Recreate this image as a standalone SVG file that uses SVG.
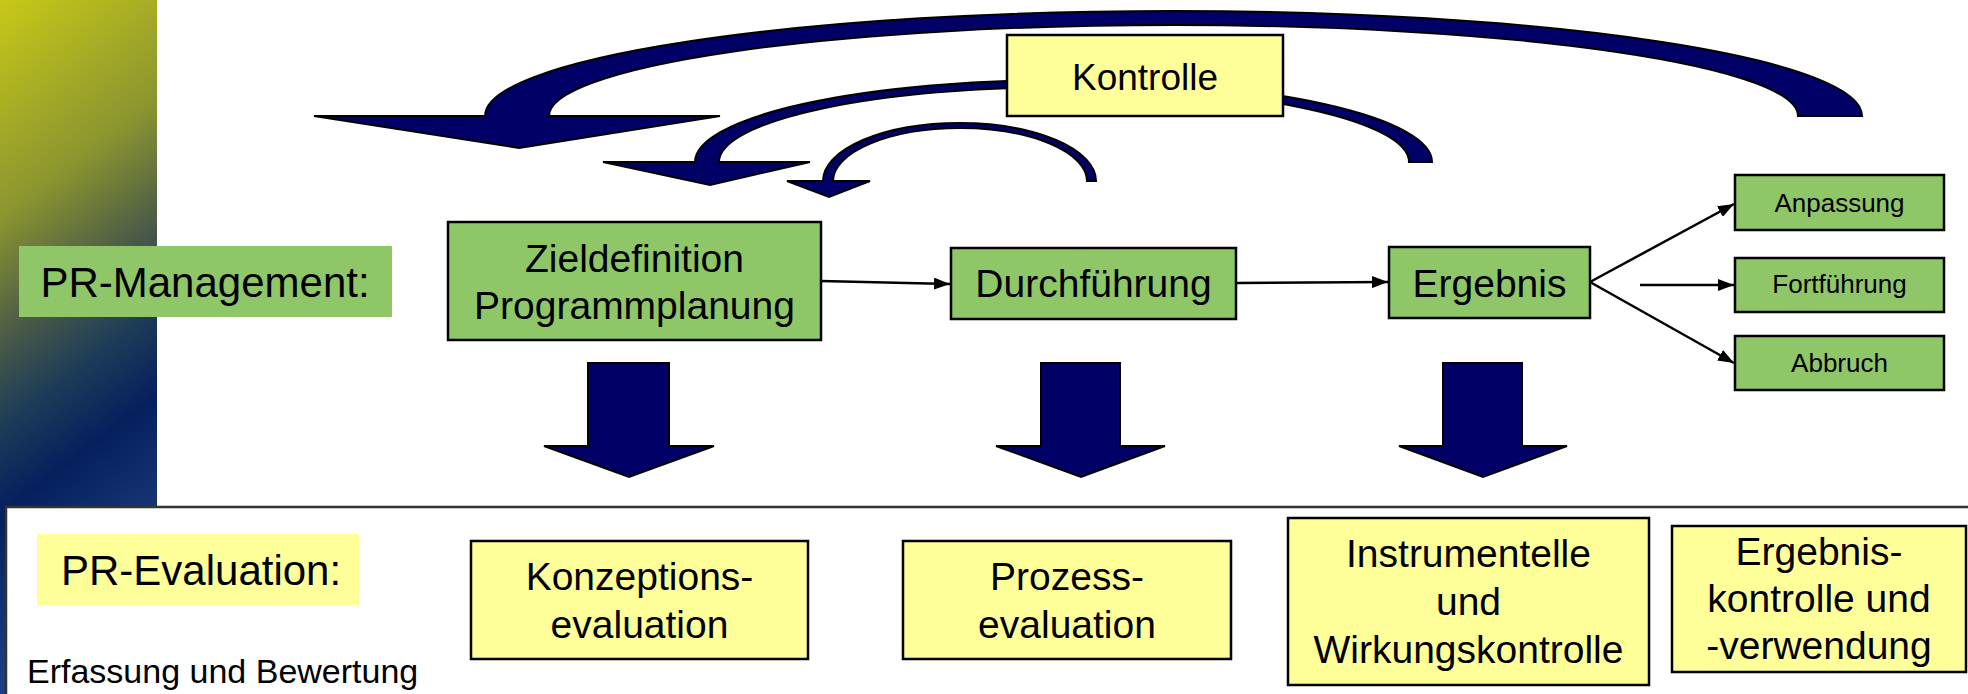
<svg xmlns="http://www.w3.org/2000/svg" width="1968" height="694" viewBox="0 0 1968 694">
<defs>
<linearGradient id="bar" gradientUnits="userSpaceOnUse" x1="0" y1="0" x2="330" y2="434">
<stop offset="0" stop-color="#c8c818"/>
<stop offset="0.32" stop-color="#8a9530"/>
<stop offset="0.5" stop-color="#4a5a48"/>
<stop offset="0.62" stop-color="#1e3d58"/>
<stop offset="0.75" stop-color="#06205e"/>
<stop offset="1" stop-color="#1f3f80"/>
</linearGradient>
<marker id="ah" viewBox="0 0 16 12" refX="16" refY="6" markerWidth="16" markerHeight="12" markerUnits="userSpaceOnUse" orient="auto">
<path d="M0,0 L16,6 L0,12 Z" fill="#000"/>
</marker>
<style>
.g{fill:#8fc667;stroke:#000;stroke-width:2.5}
.y{fill:#ffff99;stroke:#000;stroke-width:2.5}
.nv{fill:#000066;stroke:#000;stroke-width:2;stroke-linejoin:miter}
.t{font-family:"Liberation Sans",Arial,sans-serif;fill:#000}
.c{stroke:#000;stroke-width:2.5;fill:none}
</style>
</defs>
<rect x="0" y="0" width="1968" height="694" fill="#fff"/>
<rect x="0" y="0" width="157" height="694" fill="url(#bar)"/>
<rect x="6" y="507" width="2000" height="300" fill="#fff" stroke="#333" stroke-width="2.5"/>

<g id="feedback-arrows">
<path class="nv" d="M 314 116 L 485 116 A 688.5 105 0 0 1 1862 116 L 1798 116 A 624.5 91 0 0 0 549 116 L 720 116 L 519 148 Z"/>
<path class="nv" d="M 603 162 L 695 162 A 368.5 82 0 0 1 1432 162 L 1409 162 A 345 75 0 0 0 719 162 L 810 162 L 710 185 Z"/>
<path class="nv" d="M 787 181 L 823 181 A 136.5 58 0 0 1 1096 181 L 1087 181 A 127 53 0 0 0 833 181 L 870 181 L 829 197 Z"/>
</g>

<g id="down-arrows">
<path class="nv" d="M 588 363 L 669 363 L 669 446 L 714 446 L 629 477 L 544 446 L 588 446 Z"/>
<path class="nv" d="M 1041 363 L 1120 363 L 1120 446 L 1165 446 L 1081 477 L 996 446 L 1041 446 Z"/>
<path class="nv" d="M 1443 363 L 1522 363 L 1522 446 L 1567 446 L 1483 477 L 1399 446 L 1443 446 Z"/>
</g>

<g id="connectors">
<line class="c" x1="821" y1="281" x2="950" y2="284" marker-end="url(#ah)"/>
<line class="c" x1="1236" y1="283" x2="1388" y2="282" marker-end="url(#ah)"/>
<line class="c" x1="1590" y1="282" x2="1734" y2="204" marker-end="url(#ah)"/>
<line class="c" x1="1640" y1="285" x2="1734" y2="285" marker-end="url(#ah)"/>
<line class="c" x1="1590" y1="282" x2="1734" y2="363" marker-end="url(#ah)"/>
</g>

<g id="kontrolle">
<rect class="y" x="1007" y="35" width="276" height="81"/>
<text class="t" x="1145" y="90" font-size="37" text-anchor="middle">Kontrolle</text>
</g>

<g id="pr-management">
<rect x="19" y="246" width="373" height="71" fill="#8fc667"/>
<text class="t" x="205" y="297" font-size="42" text-anchor="middle">PR-Management:</text>
</g>

<g id="zieldefinition">
<rect class="g" x="448" y="222" width="373" height="118"/>
<text class="t" x="634.5" y="272" font-size="39" text-anchor="middle">Zieldefinition</text>
<text class="t" x="634.5" y="319" font-size="39" text-anchor="middle">Programmplanung</text>
</g>

<g id="durchfuehrung">
<rect class="g" x="951" y="248" width="285" height="71"/>
<text class="t" x="1093.5" y="297" font-size="39" text-anchor="middle">Durchführung</text>
</g>

<g id="ergebnis">
<rect class="g" x="1389" y="247" width="201" height="71"/>
<text class="t" x="1489.5" y="297" font-size="39" text-anchor="middle">Ergebnis</text>
</g>

<g id="anpassung">
<rect class="g" x="1735" y="175" width="209" height="55"/>
<text class="t" x="1839.5" y="212" font-size="26" text-anchor="middle">Anpassung</text>
</g>

<g id="fortfuehrung">
<rect class="g" x="1735" y="258" width="209" height="54"/>
<text class="t" x="1839.5" y="293" font-size="26" text-anchor="middle">Fortführung</text>
</g>

<g id="abbruch">
<rect class="g" x="1735" y="336" width="209" height="54"/>
<text class="t" x="1839.5" y="372" font-size="26" text-anchor="middle">Abbruch</text>
</g>

<g id="pr-evaluation">
<rect x="37" y="534" width="322" height="71" fill="#ffff99"/>
<text class="t" x="61" y="585" font-size="42">PR-Evaluation:</text>
</g>

<g id="konzeptionsevaluation">
<rect class="y" x="471" y="541" width="337" height="118"/>
<text class="t" x="639.5" y="590" font-size="39" text-anchor="middle">Konzeptions-</text>
<text class="t" x="639.5" y="638" font-size="39" text-anchor="middle">evaluation</text>
</g>

<g id="prozessevaluation">
<rect class="y" x="903" y="541" width="328" height="118"/>
<text class="t" x="1067" y="590" font-size="39" text-anchor="middle">Prozess-</text>
<text class="t" x="1067" y="638" font-size="39" text-anchor="middle">evaluation</text>
</g>

<g id="wirkungskontrolle">
<rect class="y" x="1288" y="518" width="361" height="167"/>
<text class="t" x="1468.5" y="567" font-size="39" text-anchor="middle">Instrumentelle</text>
<text class="t" x="1468.5" y="615" font-size="39" text-anchor="middle">und</text>
<text class="t" x="1468.5" y="663" font-size="39" text-anchor="middle">Wirkungskontrolle</text>
</g>

<g id="ergebniskontrolle">
<rect class="y" x="1672" y="526" width="294" height="146"/>
<text class="t" x="1819" y="565" font-size="39" text-anchor="middle">Ergebnis-</text>
<text class="t" x="1819" y="612" font-size="39" text-anchor="middle">kontrolle und</text>
<text class="t" x="1819" y="659" font-size="39" text-anchor="middle">-verwendung</text>
</g>

<text class="t" x="27" y="683" font-size="34">Erfassung und Bewertung</text>
</svg>
